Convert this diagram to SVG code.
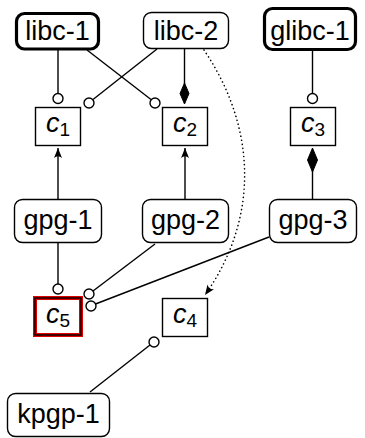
<svg xmlns="http://www.w3.org/2000/svg" width="365" height="438" viewBox="0 0 365 438">
<style>
.node{fill:#fff;stroke:#000;stroke-width:1.4}
.thick{stroke-width:3.2}
.lbl{font-family:"Liberation Sans",Arial,sans-serif;font-size:27px;fill:#000;text-anchor:middle}
.var{font-family:"Liberation Sans",Arial,sans-serif;font-size:27px;font-style:italic;fill:#000;text-anchor:middle}
.sub{font-size:19px;font-style:normal}
.edge{fill:none;stroke:#000;stroke-width:1.4}
.dot{fill:none;stroke:#000;stroke-width:1.6;stroke-dasharray:0.1 4;stroke-linecap:round}
.ball{fill:#fff;stroke:#000;stroke-width:1.4}
.dia{fill:#000;stroke:#000;stroke-width:1}
</style>
<defs>
<marker id="arr" markerUnits="userSpaceOnUse" viewBox="-11 -5 12 10" refX="0" refY="0" markerWidth="12" markerHeight="10" orient="auto">
<path d="M0,0 L-10,-4 Q-6.5,0 -10,4 Z" fill="#000"/>
</marker>
</defs>
<g id="connectors">
<path class="edge" d="M58,49 L58,93"/>
<circle class="ball" cx="58" cy="98.5" r="5"/>
<path class="edge" d="M87,50 L151,99.5"/>
<circle class="ball" cx="155" cy="103" r="5"/>
<path class="edge" d="M157,49 L93,99.5"/>
<circle class="ball" cx="89" cy="103" r="5"/>
<path class="edge" d="M184.5,49 L184.5,84"/>
<polygon class="dia" points="184.5,83 189,93.5 184.5,104 180,93.5"/>
<path class="edge" d="M312.5,51 L312.5,93"/>
<circle class="ball" cx="312.5" cy="98.5" r="5"/>
<path class="edge" d="M312.5,199 L312.5,170"/>
<polygon class="dia" points="312.5,148 317.5,160 312.5,172 307.5,160"/>
<path class="edge" d="M58,199 L58,148" marker-end="url(#arr)"/>
<path class="edge" d="M185,199 L185,148" marker-end="url(#arr)"/>
<path class="edge" d="M58,243 L58,284"/>
<circle class="ball" cx="58" cy="289" r="5"/>
<path class="edge" d="M155,244 L93,291"/>
<circle class="ball" cx="89" cy="294" r="5"/>
<path class="edge" d="M269,237 L95.5,304"/>
<circle class="ball" cx="91" cy="306" r="5"/>
<path class="edge" d="M90,392 L150,345"/>
<circle class="ball" cx="154" cy="342" r="5"/>
<path class="dot" d="M204,50 C258,130 258,220 205,295" marker-end="url(#arr)"/>
</g>
<g id="libc-1">
<rect class="node thick" x="16.5" y="13.5" width="82" height="35.5" rx="8"/>
<text class="lbl" x="57.5" y="40">libc-1</text>
</g>
<g id="libc-2">
<rect class="node" x="143.5" y="12.5" width="85" height="36" rx="8"/>
<text class="lbl" x="186" y="40">libc-2</text>
</g>
<g id="glibc-1">
<rect class="node thick" x="264.5" y="8.5" width="91" height="41" rx="8"/>
<text class="lbl" x="310" y="40">glibc-1</text>
</g>
<g id="c1">
<rect class="node" x="35.5" y="107.5" width="45" height="38"/>
<text class="var" x="58" y="132">c<tspan class="sub" dy="4">1</tspan></text>
</g>
<g id="c2">
<rect class="node" x="162.5" y="107.5" width="45" height="38"/>
<text class="var" x="185" y="132">c<tspan class="sub" dy="4">2</tspan></text>
</g>
<g id="c3">
<rect class="node" x="290.5" y="107.5" width="45" height="38"/>
<text class="var" x="313" y="132">c<tspan class="sub" dy="4">3</tspan></text>
</g>
<g id="gpg-1">
<rect class="node" x="14.5" y="199.5" width="87" height="43" rx="8"/>
<text class="lbl" x="58" y="228.5">gpg-1</text>
</g>
<g id="gpg-2">
<rect class="node" x="142.5" y="199.5" width="86" height="43" rx="8"/>
<text class="lbl" x="185.5" y="228.5">gpg-2</text>
</g>
<g id="gpg-3">
<rect class="node" x="269.5" y="199.5" width="87" height="43" rx="8"/>
<text class="lbl" x="313" y="228.5">gpg-3</text>
</g>
<g id="c5">
<rect x="35" y="298" width="46" height="37" fill="#fff" stroke="#e00000" stroke-width="4"/>
<rect x="35" y="298" width="46" height="37" fill="none" stroke="#000" stroke-width="1.4"/>
<text class="var" x="58" y="323">c<tspan class="sub" dy="4">5</tspan></text>
</g>
<g id="c4">
<rect class="node" x="162.5" y="298.5" width="45" height="38"/>
<text class="var" x="185" y="323">c<tspan class="sub" dy="4">4</tspan></text>
</g>
<g id="kpgp-1">
<rect class="node" x="7.5" y="393.5" width="102" height="43" rx="8"/>
<text class="lbl" x="58.5" y="422.5">kpgp-1</text>
</g>
</svg>
